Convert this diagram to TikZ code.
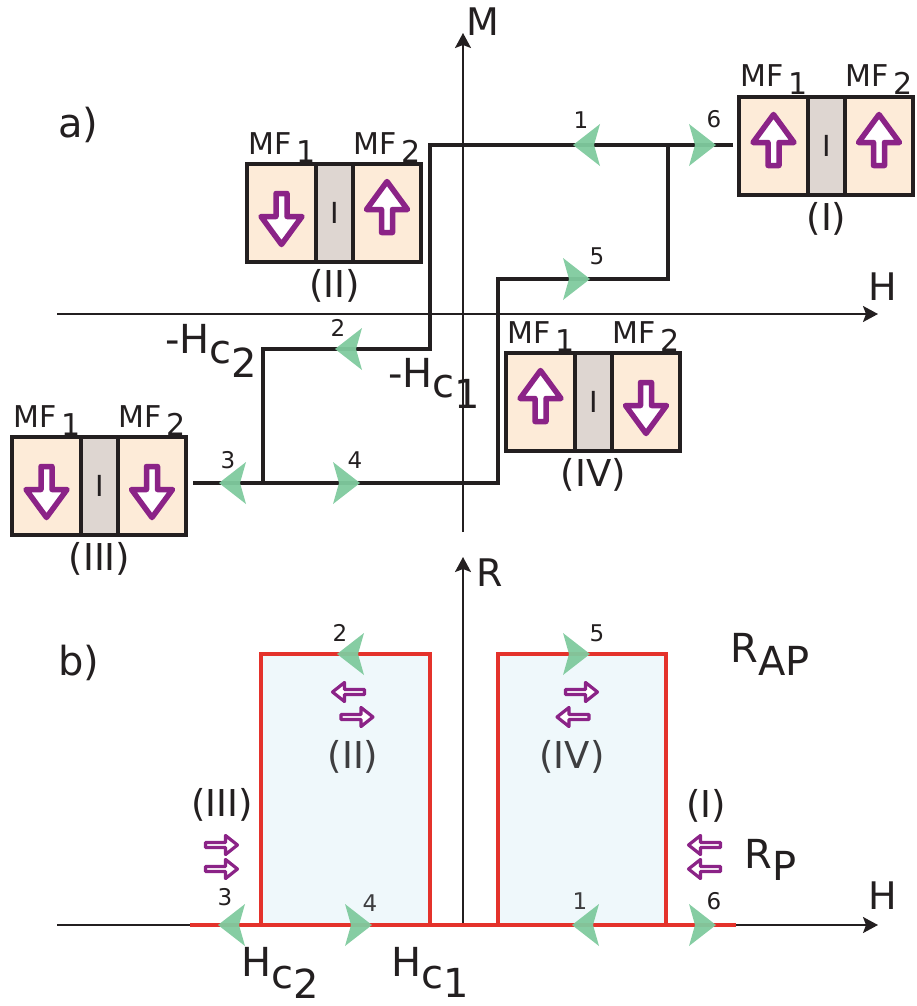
\documentclass[tikz,border=0pt]{standalone}
\usepackage{fontspec}
\setmainfont{DejaVu Sans}
\usetikzlibrary{arrows.meta}
\usepackage{xcolor}
\definecolor{ink}{RGB}{35,31,32}
\definecolor{inkgray}{RGB}{62,62,64}
\definecolor{mfpeach}{RGB}{253,235,216}
\definecolor{barriergray}{RGB}{222,214,209}
\definecolor{spin}{RGB}{139,35,135}
\definecolor{tipgreen}{RGB}{127,202,158}
\definecolor{rred}{RGB}{228,50,43}
\definecolor{rblue}{RGB}{239,248,251}

\newcommand{\fsz}[1]{\fontsize{#1}{#1}\selectfont}
\newcommand{\lowr}[2][8pt]{\raisebox{-#1}{#2}}
\newcommand{\mtjbox}[5]{%
  \begin{scope}[shift={#2}]
    \fill[mfpeach] (0,0) rectangle (69,98);
    \fill[barriergray] (69,0) rectangle (106,98);
    \fill[mfpeach] (106,0) rectangle (174,98);
    \draw[cellline] (0,0) rectangle (174,98) (69,0) -- (69,98) (106,0) -- (106,98);
    \node[ilabel] (#1-ins) at (87.5,49) {I};
    \node[mflabel] (#1-mf1) at (1,-10) {MF\hspace{5pt}\lowr{1}};
    \node[mflabel] (#1-mf2) at (106,-10) {MF\hspace{5pt}\lowr{2}};
    \pic[rotate=#3] at (34.5,49) {bigarrow};
    \pic[rotate=#4] at (140,49) {bigarrow};
    \node[statelabel] (#1-state) at (87.5,122) {#5};
  \end{scope}}

\begin{document}
\begin{tikzpicture}[
  x=1pt, y=-1pt,
  every node/.style={inner sep=0pt, text=ink},
  axis/.style={draw=ink, line width=2pt, -{Stealth[length=15pt, width=16pt, inset=3pt]}},
  loopline/.style={draw=ink, line width=4.5pt},
  rline/.style={draw=rred, line width=4.5pt},
  cellline/.style={draw=ink, line width=4pt},
  axislabel/.style={anchor=base west, font=\fsz{38}},
  panellabel/.style={anchor=base west, font=\fsz{40}},
  hclabel/.style={anchor=base west, font=\fsz{40}},
  mflabel/.style={anchor=base west, font=\fsz{30}},
  ilabel/.style={font=\fsz{29}},
  statelabel/.style={font=\fsz{37}},
  numlabel/.style={font=\fsz{23}},
  bigarrow/.pic={\draw[draw=spin, fill=white, line width=5.5pt, line join=round]
    (0,-31.5) -- (20.5,-3.5) -- (5.5,-3.5) -- (5.5,19.5) -- (-5.5,19.5) -- (-5.5,-3.5) -- (-20.5,-3.5) -- cycle;},
  smallarrow/.pic={\draw[draw=spin, fill=white, line width=3.2pt, line join=round]
    (16,0) -- (4,9.5) -- (4,2.5) -- (-16,2.5) -- (-16,-2.5) -- (4,-2.5) -- (4,-9.5) -- cycle;},
  gtip/.pic={\fill[tipgreen, fill opacity=0.95] (0,0) -- (-27,-21) -- (-21,0) -- (-27,21) -- cycle;}
]
\useasboundingbox (0,0) rectangle (916,1006);

% a) magnetization loop
\draw[axis] (57,314) -- (878,314);
\draw[axis] (463,532) -- (463,33);
\node[axislabel] (mlabel) at (466,36) {M};
\node[axislabel] (hlabel-a) at (868,300) {H};
\node[panellabel] (panel-a) at (58,138) {a)};

\draw[loopline] (733,145) -- (430,145) -- (430,349) -- (263,349) -- (263,483)
  (193,483) -- (498,483) -- (498,279) -- (668,279) -- (668,145);

\pic[rotate=180] at (573,145) {gtip};
\pic at (716,145) {gtip};
\pic at (590,279) {gtip};
\pic[rotate=180] at (335,349) {gtip};
\pic[rotate=180] at (219,483) {gtip};
\pic at (360,483) {gtip};
\node[numlabel] (n1-a) at (581,120) {1};
\node[numlabel] (n2-a) at (338,328) {2};
\node[numlabel] (n3-a) at (228,460) {3};
\node[numlabel] (n4-a) at (355,460) {4};
\node[numlabel] (n5-a) at (597,256) {5};
\node[numlabel] (n6-a) at (714,119) {6};

\node[hclabel] (hc2-a) at (165,353) {-H\lowr[10pt]{c}\lowr[24pt]{2}};
\node[hclabel] (hc1-a) at (388,387) {-H\lowr[10pt]{c}\lowr[21pt]{1}};

\mtjbox{st1}{(739,97)}{0}{0}{(I)}
\mtjbox{st2}{(247,164)}{180}{0}{(II)}
\mtjbox{st3}{(12,437)}{180}{180}{(III)}
\mtjbox{st4}{(506,353)}{0}{180}{(IV)}

% b) resistance loop
\fill[rblue] (261,654) rectangle (430,925);
\fill[rblue] (498,654) rectangle (666,925);
\draw[axis] (57,925) -- (878,925);
\draw[axis] (463,925) -- (463,557);
\node[axislabel] (rlabel) at (476,586) {R};
\node[axislabel] (hlabel-b) at (868,909) {H};
\node[panellabel] (panel-b) at (58,675) {b)};

\draw[rline] (261,925) -- (261,654) -- (430,654) -- (430,925);
\draw[rline] (498,925) -- (498,654) -- (666,654) -- (666,925);
\draw[rline] (190,925) -- (736,925);

\pic[rotate=180] at (337,654) {gtip};
\pic at (590,654) {gtip};
\pic[rotate=180] at (218,925) {gtip};
\pic at (372,925) {gtip};
\pic[rotate=180] at (572,925) {gtip};
\pic at (716,925) {gtip};
\node[numlabel] (n2-b) at (340,633) {2};
\node[numlabel] (n5-b) at (597,633) {5};
\node[numlabel] (n3-b) at (225,897) {3};
\node[numlabel, text=inkgray] (n4-b) at (370,903) {4};
\node[numlabel, text=inkgray] (n1-b) at (580,901) {1};
\node[numlabel] (n6-b) at (714,901) {6};

\pic[rotate=180] at (348.5,692) {smallarrow};
\pic at (357,717) {smallarrow};
\node[statelabel, text=inkgray] (st2-b) at (353,757) {(II)};
\pic at (581.5,692) {smallarrow};
\pic[rotate=180] at (573,717) {smallarrow};
\node[statelabel, text=inkgray] (st4-b) at (572,757) {(IV)};
\node[statelabel] (st3-b) at (222,805) {(III)};
\pic at (221.5,845) {smallarrow};
\pic at (221.5,869) {smallarrow};
\node[statelabel] (st1-b) at (706,806) {(I)};
\pic[rotate=180] at (704.5,845) {smallarrow};
\pic[rotate=180] at (704.5,869) {smallarrow};

\node[hclabel] (hc2-b) at (241,976) {H\lowr[12pt]{c}\lowr[22pt]{2}};
\node[hclabel] (hc1-b) at (391,976) {H\lowr[12pt]{c}\lowr[21pt]{1}};
\node[hclabel] (rap) at (730,662) {R\lowr[13pt]{AP}};
\node[hclabel] (rp) at (744,868) {R\lowr[12pt]{P}};

\end{tikzpicture}
\end{document}
